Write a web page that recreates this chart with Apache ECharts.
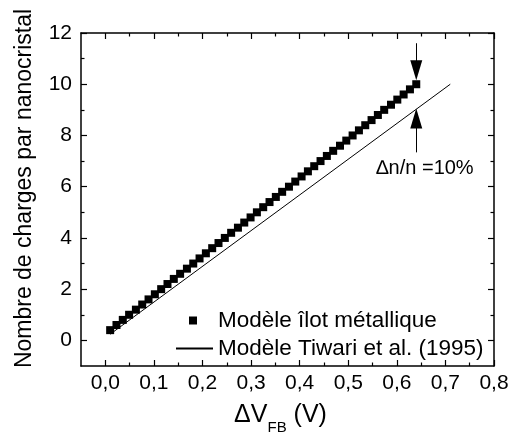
<!DOCTYPE html>
<html>
<head>
<meta charset="utf-8">
<script src="https://cdn.jsdelivr.net/npm/echarts@6/dist/echarts.min.js"></script>
<style>html,body{margin:0;padding:0;background:#fff}#c{width:510px;height:437px}</style>
</head>
<body>
<div id="c"></div>
<script>
// ---- data ----
const ilotX = [0.010,0.023,0.036,0.049,0.063,0.076,0.089,0.102,0.115,0.128,0.141,0.154,0.168,0.181,0.194,0.207,0.220,0.233,0.246,0.259,0.273,0.286,0.299,0.312,0.325,0.338,0.351,0.364,0.378,0.391,0.404,0.417,0.430,0.443,0.456,0.469,0.483,0.496,0.509,0.522,0.535,0.548,0.561,0.574,0.588,0.601,0.614,0.627,0.640];
const ilotN = [0.4,0.6,0.8,1.0,1.2,1.4,1.6,1.8,2.0,2.2,2.4,2.6,2.8,3.0,3.2,3.4,3.6,3.8,4.0,4.2,4.4,4.6,4.8,5.0,5.2,5.4,5.6,5.8,6.0,6.2,6.4,6.6,6.8,7.0,7.2,7.4,7.6,7.8,8.0,8.2,8.4,8.6,8.8,9.0,9.2,9.4,9.6,9.8,10.0];
const tiwariX = [0.01, 0.71];
const tiwariN = [0.24, 10.0];
const xMajor = [0,0.1,0.2,0.3,0.4,0.5,0.6,0.7,0.8];
const xMinor = [0.05,0.15,0.25,0.35,0.45,0.55,0.65,0.75];
const yMajor = [0,2,4,6,8,10,12];
const yMinor = [1,3,5,7,9,11];
const seriesNames = ['Modèle îlot métallique', 'Modèle Tiwari et al. (1995)'];
const annotationText = '\u2206n/n =10%';

const FONT = 'Liberation Sans, Arial, Helvetica, sans-serif';
const chart = echarts.init(document.getElementById('c'), null, {renderer:'canvas'});

function xAx(pos, ticks, len, labels, line) {
  return {
    type:'value', position:pos, min:-0.05, max:0.8, offset:0,
    splitLine:{show:false},
    axisLine:{show:line, onZero:false, lineStyle:{color:'#000', width:1.5}},
    axisTick:{show:true, inside:true, length:len, customValues:ticks, lineStyle:{color:'#000', width:1.2}},
    axisLabel:{show:labels, customValues:ticks, margin:7, color:'#000', fontSize:21, fontFamily:FONT,
      formatter:v=>v.toFixed(1).replace('.', ',')}
  };
}
function yAx(pos, ticks, len, labels, line) {
  return {
    type:'value', position:pos, min:-1, max:12, offset:0,
    splitLine:{show:false},
    axisLine:{show:line, onZero:false, lineStyle:{color:'#000', width:1.5}},
    axisTick:{show:true, inside:true, length:len, customValues:ticks, lineStyle:{color:'#000', width:1.2}},
    axisLabel:{show:labels, customValues:ticks, margin:9, color:'#000', fontSize:21, fontFamily:FONT,
      formatter:v=>String(v)}
  };
}

const xa0 = xAx('bottom', xMajor, 6, true, true);
xa0.name = '{a|\u0394V}{b|FB}{a| (V)}';
xa0.nameLocation = 'middle';
xa0.nameGap = 34;
xa0.nameTextStyle = {rich:{
  a:{fontSize:25, fontFamily:FONT, color:'#000', verticalAlign:'bottom', lineHeight:28},
  b:{fontSize:15, fontFamily:FONT, color:'#000', verticalAlign:'bottom', lineHeight:15, padding:[0,0,-7,0]}
}, padding:[0,14,0,0]};

const ya0 = yAx('left', yMajor, 6, true, true);
ya0.name = 'Nombre de charges par nanocristal';
ya0.nameLocation = 'middle';
ya0.nameGap = 45;
ya0.nameTextStyle = {fontSize:23, fontFamily:FONT, color:'#000', padding:[0,0,0,22]};

const option = {
  backgroundColor:'#fff',
  animation:false,
  grid:{left:81, top:33, right:16, bottom:71, containLabel:false, outerBoundsMode:'none'},
  xAxis:[xa0, xAx('bottom', xMinor, 3.5, false, false), xAx('top', xMajor, 6, false, true), xAx('top', xMinor, 3.5, false, false)],
  yAxis:[ya0, yAx('left', yMinor, 3.5, false, false), yAx('right', yMajor, 6, false, true), yAx('right', yMinor, 3.5, false, false)],
  legend:[
    {data:[seriesNames[0]], orient:'vertical', left:184, top:304, itemWidth:8, itemHeight:8, itemGap:0,
     itemStyle:{opacity:1},
     textStyle:{fontSize:22.5, fontFamily:FONT, color:'#000', padding:[0,0,0,16]}},
    {data:[seriesNames[1]], orient:'vertical', left:170, top:332, itemWidth:37, itemHeight:10, itemGap:0,
     itemStyle:{opacity:0},
     textStyle:{fontSize:22.5, fontFamily:FONT, color:'#000'}}
  ],
  series:[
    {
      name:seriesNames[0], type:'scatter', xAxisIndex:0, yAxisIndex:0,
      symbol:'rect', symbolSize:8, itemStyle:{color:'#000', opacity:1},
      data: ilotX.map((x,i)=>[x, ilotN[i]]),
      z:3
    },
    {
      name:seriesNames[1], type:'line', xAxisIndex:0, yAxisIndex:0,
      symbol:'none', itemStyle:{color:'#000'}, lineStyle:{color:'#000', width:1},
      data: tiwariX.map((x,i)=>[x, tiwariN[i]]),
      markLine:{
        silent:true, symbol:['none','triangle'], symbolSize:[12,20],
        lineStyle:{color:'#000', width:1, type:'solid'}, label:{show:false},
        data:[
          [{coord:[0.64, 11.6]}, {coord:[0.64, 10.55]}],
          [{coord:[0.64, 7.34]}, {coord:[0.64, 8.66]}]
        ]
      },
      markPoint:{
        silent:true, symbol:'circle', symbolSize:1, itemStyle:{color:'rgba(0,0,0,0)'},
        label:{show:true, position:'inside', formatter:annotationText, fontSize:20, fontFamily:FONT, color:'#000'},
        data:[{coord:[0.658, 6.7]}]
      },
      z:2
    }
  ]
};
chart.setOption(option);
</script>
</body>
</html>
